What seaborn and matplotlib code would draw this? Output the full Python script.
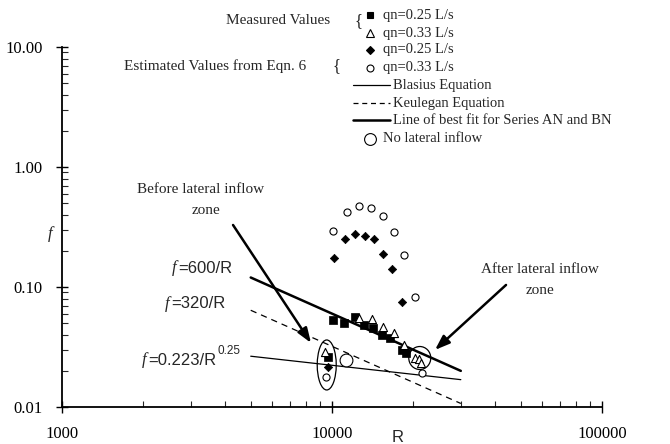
import matplotlib
matplotlib.use('Agg')
import matplotlib.pyplot as plt
import matplotlib.transforms as mtransforms
from matplotlib.patches import Ellipse
from matplotlib.lines import Line2D
from matplotlib.ticker import FixedLocator, LogLocator, NullFormatter
import seaborn as sns
import pandas as pd

sns.set_style('white')
plt.rcParams['font.family'] = ['Liberation Serif', 'DejaVu Serif']

# measured values
meas25_R = [10090, 11080, 12170, 13140, 14190, 15320, 16400, 18170, 18800, 9670]
meas25_f = [0.0531, 0.0501, 0.0562, 0.0483, 0.0455, 0.0398, 0.0376, 0.0299, 0.0282, 0.0261]
meas33_R = [12590, 14070, 15450, 16970, 18480, 20300, 21010, 21360, 9420]
meas33_f = [0.0552, 0.0541, 0.0464, 0.0414, 0.0328, 0.0256, 0.0251, 0.0233, 0.0287]
# estimated values from eqn. 6
est25_R = [10170, 11170, 12170, 13250, 14300, 15450, 16680, 18170, 9670]
est25_f = [0.1745, 0.251, 0.2765, 0.266, 0.251, 0.188, 0.141, 0.075, 0.0215]
est33_R = [10090, 11360, 12590, 13950, 15450, 16970, 18480, 20300, 9500, 21540]
est33_f = [0.293, 0.422, 0.473, 0.455, 0.391, 0.287, 0.185, 0.0825, 0.0178, 0.0192]
# no lateral inflow point
nolat_R = [11270]
nolat_f = [0.0246]
# equation lines
line_R = [5000, 30000]
best_f = [0.120, 0.020]        # f = 600/R
keul_f = [0.064, 0.0107]       # f = 320/R
blas_f = [0.0265, 0.0169]      # f = 0.223/R^0.25

W, H = 670, 444
fig = plt.figure(figsize=(6.7, 4.44), dpi=100)
ax = fig.add_axes([62 / W, 1 - 407 / H, 540 / W, 360 / H])
ax.set_xscale('log')
ax.set_yscale('log')

def fx(x):
    return x / W

def fy(y):
    return 1 - y / H

lines = pd.DataFrame({'R': line_R, 'best': best_f, 'keul': keul_f, 'blas': blas_f})
sns.lineplot(data=lines, x='R', y='best', color='black', lw=1.8, ax=ax)
sns.lineplot(data=lines, x='R', y='keul', color='black', lw=0.9, linestyle=(0, (5, 4)), ax=ax)
sns.lineplot(data=lines, x='R', y='blas', color='black', lw=0.9, ax=ax)

sns.scatterplot(x=meas25_R, y=meas25_f, marker='s', s=28, color='black', edgecolor='black', linewidth=0.5, ax=ax, zorder=3)
sns.scatterplot(x=meas33_R, y=meas33_f, marker='^', s=34, facecolor='white', edgecolor='black', linewidth=0.8, ax=ax, zorder=4)
sns.scatterplot(x=est25_R, y=est25_f, marker='D', s=18, color='black', edgecolor='black', linewidth=0.5, ax=ax, zorder=3)
sns.scatterplot(x=est33_R, y=est33_f, marker='o', s=26, facecolor='white', edgecolor='black', linewidth=0.8, ax=ax, zorder=3)
sns.scatterplot(x=nolat_R, y=nolat_f, marker='o', s=85, facecolor='white', edgecolor='black', linewidth=0.8, ax=ax, zorder=3)

# ellipse / circle around no-lateral-inflow points
t1 = fig.dpi_scale_trans + mtransforms.ScaledTranslation(9560, 0.0224, ax.transData)
ax.add_artist(Ellipse((0, 0), 0.19, 0.50, transform=t1, fill=False, ec='black', lw=0.9))
t2 = fig.dpi_scale_trans + mtransforms.ScaledTranslation(21140, 0.0256, ax.transData)
ax.add_artist(Ellipse((0, 0), 0.22, 0.23, transform=t2, fill=False, ec='black', lw=0.9))

# arrows
aprops = dict(arrowstyle='-|>,head_length=0.55,head_width=0.2', lw=1.8, color='black',
              mutation_scale=16, shrinkA=0, shrinkB=0)
ax.annotate('', xy=(8360, 0.0342), xytext=(4300, 0.3286), arrowprops=aprops)
ax.annotate('', xy=(24070, 0.0299), xytext=(44110, 0.1040), arrowprops=aprops)

ax.set_xlim(1000, 100000)
ax.set_ylim(0.01, 10)
ax.xaxis.set_major_locator(FixedLocator([1000, 10000, 100000]))
ax.yaxis.set_major_locator(FixedLocator([0.01, 0.1, 1, 10]))
ax.set_xticklabels(['1000', '10000', '100000'])
ax.set_yticklabels(['0.01', '0.10', '1.00', '10.00'])
ax.xaxis.set_minor_locator(LogLocator(base=10, subs=range(2, 10)))
ax.yaxis.set_minor_locator(LogLocator(base=10, subs=range(2, 10)))
ax.xaxis.set_minor_formatter(NullFormatter())
ax.yaxis.set_minor_formatter(NullFormatter())
ax.tick_params(which='major', direction='inout', length=8, width=1.0, labelsize=12, pad=10,
               bottom=True, left=True, colors='black')
ax.tick_params(which='minor', direction='in', length=4, width=0.8, bottom=True, left=True)
ax.set_xlabel('')
ax.set_ylabel('')
for side in ['top', 'right']:
    ax.spines[side].set_visible(False)
for side in ['left', 'bottom']:
    ax.spines[side].set_color('black')
    ax.spines[side].set_linewidth(1.3)

# axis labels
fig.text(fx(398), fy(437), 'R', family='Liberation Sans', fontsize=12, ha='center', va='center')
fig.text(fx(50), fy(234), 'f', style='italic', fontsize=12, ha='center', va='center')

# equation labels
fig.text(fx(172), fy(268), 'f', style='italic', fontsize=12, ha='left', va='center')
fig.text(fx(178), fy(268), '=600/R', family='Liberation Sans', fontsize=12, ha='left', va='center')
fig.text(fx(165), fy(304), 'f', style='italic', fontsize=12, ha='left', va='center')
fig.text(fx(171), fy(304), '=320/R', family='Liberation Sans', fontsize=12, ha='left', va='center')
fig.text(fx(142), fy(360), 'f', style='italic', fontsize=12, ha='left', va='center')
fig.text(fx(148), fy(360), '=0.223/R', family='Liberation Sans', fontsize=12, ha='left', va='center')
fig.text(fx(217), fy(351), '0.25', family='Liberation Sans', fontsize=8.5, ha='left', va='center')

# zone labels
fig.text(fx(201), fy(189), 'Before lateral inflow', fontsize=11, ha='center', va='center')
fig.text(fx(206), fy(211), 'zone', fontsize=11, ha='center', va='center')
fig.text(fx(540), fy(269), 'After lateral inflow', fontsize=11, ha='center', va='center')
fig.text(fx(540), fy(290), 'zone', fontsize=11, ha='center', va='center')

# legend block
fig.text(fx(330), fy(21), 'Measured Values', fontsize=11, ha='right', va='center')
fig.text(fx(358), fy(21), '{', fontsize=12, ha='center', va='center')
fig.text(fx(124), fy(66), 'Estimated Values from Eqn. 6', fontsize=11, ha='left', va='center')
fig.text(fx(336), fy(66), '{', fontsize=12, ha='center', va='center')

mk_rows = [
    (15, 's', 'black', 5.0, 'qn=0.25 L/s'),
    (33, '^', 'white', 5.5, 'qn=0.33 L/s'),
    (50, 'D', 'black', 4.0, 'qn=0.25 L/s'),
    (68, 'o', 'white', 5.0, 'qn=0.33 L/s'),
    (139, 'o', 'white', 8.5, 'No lateral inflow'),
]
for y, m, fc, ms, lab in mk_rows:
    fig.add_artist(Line2D([fx(370)], [fy(y)], marker=m, markersize=ms, markerfacecolor=fc,
                          markeredgecolor='black', markeredgewidth=0.8, linestyle='none',
                          transform=fig.transFigure))
    fig.text(fx(383), fy(y), lab, fontsize=10.5, ha='left', va='center')

ln_rows = [
    (85, 0.9, '-', 'Blasius Equation'),
    (103, 0.9, (0, (4, 3)), 'Keulegan Equation'),
    (120, 1.8, '-', 'Line of best fit for Series AN and BN'),
]
for y, lw, ls, lab in ln_rows:
    fig.add_artist(Line2D([fx(353), fx(390)], [fy(y), fy(y)], color='black', lw=lw, linestyle=ls,
                          transform=fig.transFigure))
    fig.text(fx(393), fy(y), lab, fontsize=10.5, ha='left', va='center')

fig.savefig('out.png', dpi=100, facecolor='white')
